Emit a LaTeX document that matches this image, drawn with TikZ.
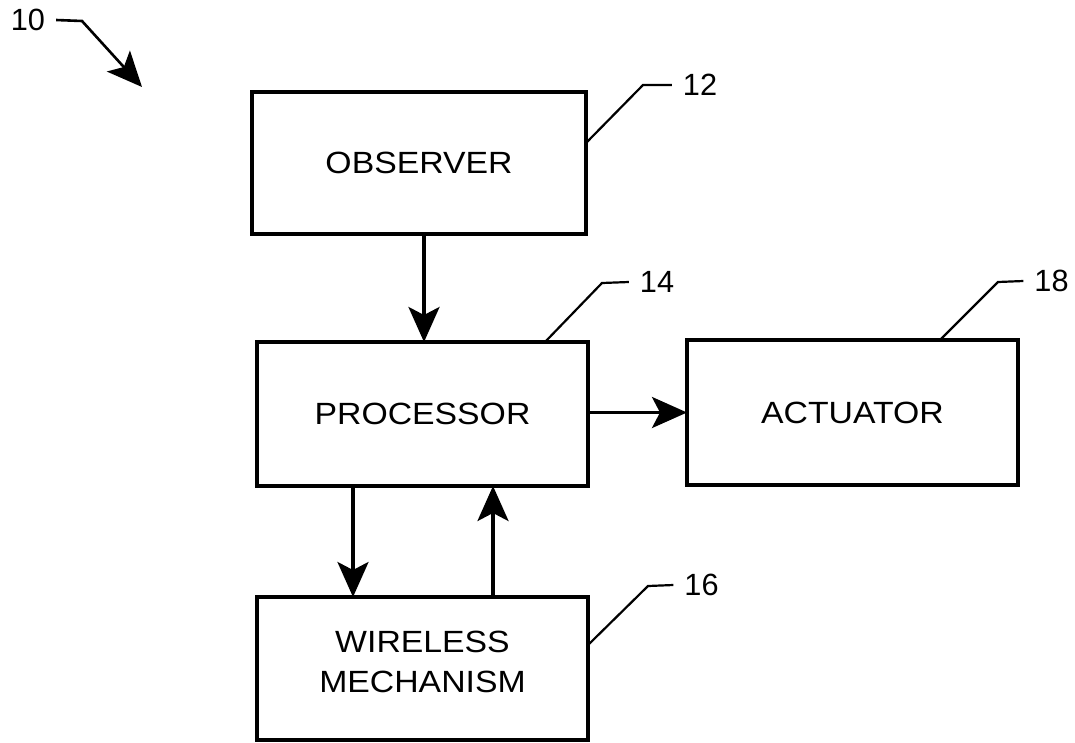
\documentclass[tikz,border=0pt]{standalone}
\usepackage{fontspec}
\setmainfont{Liberation Sans}
\newfontfamily\boxfont{Liberation Sans}[FakeStretch=1.1]
\usetikzlibrary{arrows.meta,calc}
\begin{document}
\begin{tikzpicture}[x=1pt,y=-1pt,
  box/.style={draw,line width=3.6pt,outer sep=0pt,inner sep=0pt,align=center,
    font=\boxfont\fontsize{30.7}{40}\selectfont},
  arr/.style={line width=3.4pt,-{Stealth[length=35pt,width=31pt,inset=8pt]}},
  lead/.style={line width=2.2pt},
  lbl/.style={inner sep=0pt,outer sep=11pt,font=\fontsize{30.7}{36}\selectfont}]
\useasboundingbox (0,0) rectangle (1075,742);
% boxes
\node[box,minimum width=334pt,minimum height=142pt] (obs) at (419,163) {OBSERVER};
\node[box,minimum width=331pt,minimum height=144pt] (proc) at (422.5,414) {PROCESSOR};
\node[box,minimum width=331pt,minimum height=145pt] (act) at (852.5,412.5) {ACTUATOR};
\node[box,minimum width=331pt,minimum height=143pt,text depth=14pt] (wm) at (422.5,668.5) {WIRELESS\\MECHANISM};
% reference numerals
\node[lbl] (l10) at (28,20) {10};
\node[lbl] (l12) at (700,85) {12};
\node[lbl] (l14) at (657,282) {14};
\node[lbl] (l18) at (1051.5,281) {18};
\node[lbl] (l16) at (701.5,585) {16};
% connectors
\draw[arr] ([xshift=5pt]obs.south) -- ([xshift=5pt]obs.south |- proc.north);
\draw[arr] (proc.east |- act.west) -- (act.west);
\draw[arr] ([xshift=-69.5pt]proc.south) -- ([xshift=-69.5pt]wm.north);
\draw[arr] ([xshift=70.5pt]wm.north) -- ([xshift=70.5pt]proc.south);
% leader lines
\coordinate (e10) at (82,21);
\coordinate (t10) at (142,87);
\draw[arr,line width=2.6pt] (l10.east) -- (e10) -- (t10);
\coordinate (e12) at (643,85);
\draw[lead] ($(obs.north east)+(0,51)$) -- (e12) -- (l12.west);
\coordinate (e14) at (602,283);
\draw[lead] ($(proc.north west)+(288,0)$) -- (e14) -- (l14.west);
\coordinate (e18) at (998,282);
\draw[lead] ($(act.north west)+(253,0)$) -- (e18) -- (l18.west);
\coordinate (e16) at (648,586);
\draw[lead] ($(wm.north east)+(0,48)$) -- (e16) -- (l16.west);
\end{tikzpicture}
\end{document}
